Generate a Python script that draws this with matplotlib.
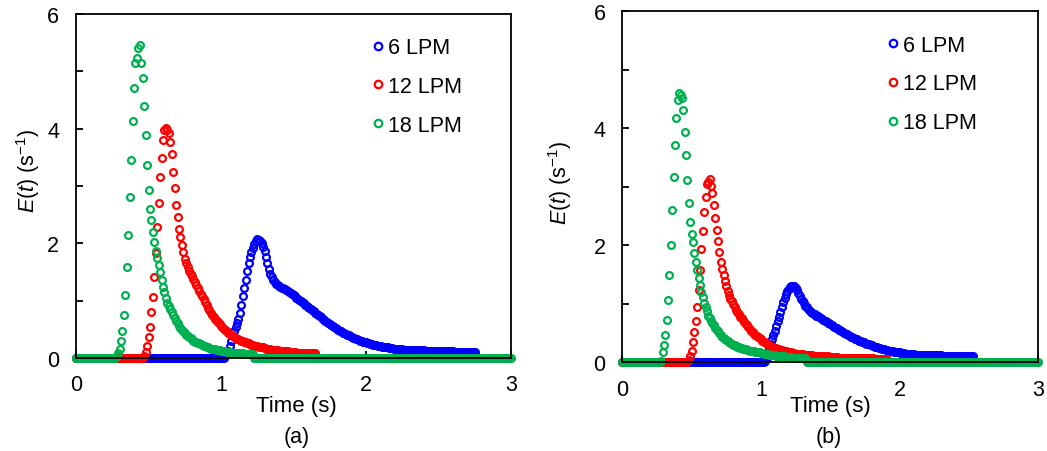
import numpy as np
import matplotlib.pyplot as plt

plt.rcParams['font.family'] = 'Liberation Sans'
plt.rcParams['mathtext.fontset'] = 'custom'
plt.rcParams['mathtext.rm'] = 'Liberation Sans'
plt.rcParams['mathtext.it'] = 'Liberation Sans:italic'

DT = 0.01      # sampling step of the RTD curves (s)
T_END = 3.0

labels = ['6 LPM', '12 LPM', '18 LPM']
colors = ['#0000ff', '#ff0000', '#00b050']

# ---- (a) ----  each list starts at its start time, zero before it
start_6_a = 1.03
e_6_a = [0.03, 0.07, 0.12, 0.20, 0.29, 0.38, 0.47, 0.54, 0.60, 0.68,
         0.78, 0.93, 1.07, 1.21, 1.36, 1.52, 1.65, 1.76, 1.84, 1.92,
         1.99, 2.04, 2.07, 2.06, 2.03, 2.00, 1.93, 1.86, 1.76, 1.66,
         1.55, 1.47, 1.41, 1.36, 1.32, 1.29, 1.27, 1.25, 1.24, 1.22,
         1.21, 1.20, 1.18, 1.16, 1.14, 1.13, 1.11, 1.09, 1.07, 1.05,
         1.03, 1.01, 0.99, 0.97, 0.95, 0.93, 0.91, 0.89, 0.87, 0.85,
         0.83, 0.81, 0.79, 0.77, 0.75, 0.73, 0.71, 0.68, 0.66, 0.64,
         0.63, 0.61, 0.59, 0.57, 0.55, 0.54, 0.52, 0.50, 0.49, 0.47,
         0.46, 0.44, 0.43, 0.42, 0.40, 0.39, 0.38, 0.37, 0.35, 0.34,
         0.33, 0.32, 0.31, 0.30, 0.29, 0.28, 0.28, 0.27, 0.26, 0.25,
         0.24, 0.24, 0.23, 0.22, 0.22, 0.21, 0.21, 0.20, 0.19, 0.19,
         0.18, 0.18, 0.18, 0.17, 0.17, 0.17, 0.16, 0.16, 0.16, 0.15,
         0.15, 0.15, 0.15, 0.14, 0.14, 0.14, 0.14, 0.14, 0.13, 0.13,
         0.13, 0.13, 0.13, 0.13, 0.13, 0.13, 0.13, 0.13, 0.12, 0.12,
         0.12, 0.12, 0.12, 0.12, 0.12, 0.12, 0.12, 0.12, 0.11, 0.11,
         0.11, 0.11, 0.11, 0.11, 0.11, 0.11, 0.11, 0.11, 0.10, 0.10,
         0.10, 0.10, 0.10, 0.10, 0.10, 0.10, 0.10, 0.10, 0.10, 0.10,
         0.10, 0.10, 0.10]

start_12_a = 0.47
e_12_a = [0.04, 0.10, 0.20, 0.36, 0.53, 0.80, 1.06, 1.41, 1.83, 2.28,
          2.70, 3.16, 3.49, 3.80, 3.97, 4.01, 3.97, 3.93, 3.77, 3.55,
          3.24, 2.97, 2.66, 2.46, 2.24, 2.11, 1.96, 1.84, 1.73, 1.65,
          1.58, 1.52, 1.47, 1.42, 1.37, 1.32, 1.27, 1.22, 1.17, 1.12,
          1.07, 1.02, 0.97, 0.92, 0.87, 0.83, 0.79, 0.75, 0.72, 0.68,
          0.65, 0.62, 0.59, 0.56, 0.53, 0.50, 0.48, 0.46, 0.44, 0.42,
          0.40, 0.38, 0.36, 0.35, 0.33, 0.32, 0.31, 0.30, 0.29, 0.28,
          0.27, 0.26, 0.25, 0.24, 0.23, 0.22, 0.21, 0.21, 0.20, 0.19,
          0.19, 0.18, 0.18, 0.17, 0.16, 0.16, 0.15, 0.15, 0.14, 0.14,
          0.13, 0.13, 0.13, 0.12, 0.12, 0.12, 0.11, 0.11, 0.11, 0.11,
          0.10, 0.10, 0.10, 0.10, 0.10, 0.09, 0.09, 0.09, 0.09, 0.09,
          0.09, 0.08, 0.08, 0.08, 0.08, 0.08, 0.08, 0.08, 0.08]

start_18_a = 0.28
e_18_a = [0.03, 0.08, 0.15, 0.30, 0.47, 0.75, 1.10, 1.58, 2.14, 2.80,
          3.45, 4.14, 4.70, 5.14, 5.23, 5.41, 5.46, 5.15, 4.88, 4.39,
          3.88, 3.36, 2.92, 2.60, 2.40, 2.20, 2.02, 1.87, 1.74, 1.62,
          1.50, 1.36, 1.24, 1.14, 1.04, 0.96, 0.90, 0.85, 0.80, 0.75,
          0.70, 0.65, 0.60, 0.56, 0.52, 0.49, 0.46, 0.43, 0.40, 0.38,
          0.36, 0.34, 0.32, 0.30, 0.28, 0.27, 0.26, 0.25, 0.24, 0.22,
          0.21, 0.20, 0.19, 0.18, 0.17, 0.16, 0.16, 0.15, 0.15, 0.14,
          0.14, 0.13, 0.12, 0.12, 0.11, 0.11, 0.10, 0.10, 0.10, 0.09,
          0.09, 0.09, 0.09, 0.08, 0.08, 0.08, 0.08, 0.08, 0.07, 0.07,
          0.07, 0.07, 0.07, 0.07, 0.06]

# ---- (b) ----
start_6_b = 1.03
e_6_b = [0.03, 0.08, 0.15, 0.24, 0.32, 0.40, 0.47, 0.54, 0.62, 0.70,
         0.78, 0.86, 0.95, 1.03, 1.10, 1.17, 1.22, 1.26, 1.29, 1.31,
         1.31, 1.30, 1.27, 1.23, 1.19, 1.14, 1.09, 1.05, 1.01, 0.97,
         0.94, 0.91, 0.88, 0.86, 0.85, 0.83, 0.82, 0.80, 0.79, 0.77,
         0.76, 0.74, 0.73, 0.71, 0.70, 0.68, 0.67, 0.65, 0.64, 0.62,
         0.61, 0.59, 0.58, 0.56, 0.55, 0.53, 0.52, 0.50, 0.49, 0.48,
         0.46, 0.45, 0.44, 0.43, 0.42, 0.40, 0.39, 0.38, 0.37, 0.36,
         0.35, 0.34, 0.33, 0.32, 0.31, 0.31, 0.30, 0.29, 0.28, 0.27,
         0.26, 0.26, 0.25, 0.24, 0.23, 0.23, 0.22, 0.21, 0.21, 0.20,
         0.20, 0.19, 0.19, 0.18, 0.18, 0.17, 0.17, 0.17, 0.16, 0.16,
         0.16, 0.15, 0.15, 0.15, 0.14, 0.14, 0.14, 0.14, 0.13, 0.13,
         0.13, 0.13, 0.13, 0.13, 0.13, 0.13, 0.13, 0.13, 0.12, 0.12,
         0.12, 0.12, 0.12, 0.12, 0.12, 0.12, 0.12, 0.12, 0.11, 0.11,
         0.11, 0.11, 0.11, 0.11, 0.11, 0.11, 0.11, 0.11, 0.10, 0.10,
         0.10, 0.10, 0.10, 0.10, 0.10, 0.10, 0.10, 0.10, 0.10, 0.10,
         0.10]

start_12_b = 0.48
e_12_b = [0.04, 0.10, 0.20, 0.35, 0.51, 0.70, 0.94, 1.23, 1.58, 1.93,
          2.24, 2.57, 2.83, 3.05, 3.09, 3.13, 3.02, 2.90, 2.69, 2.47,
          2.27, 2.07, 1.88, 1.72, 1.60, 1.49, 1.39, 1.30, 1.22, 1.15,
          1.09, 1.04, 0.99, 0.94, 0.90, 0.86, 0.82, 0.78, 0.75, 0.72,
          0.69, 0.66, 0.63, 0.60, 0.57, 0.54, 0.52, 0.49, 0.47, 0.45,
          0.43, 0.41, 0.39, 0.37, 0.35, 0.34, 0.32, 0.31, 0.30, 0.28,
          0.27, 0.26, 0.25, 0.24, 0.23, 0.22, 0.21, 0.21, 0.20, 0.19,
          0.19, 0.18, 0.18, 0.17, 0.17, 0.16, 0.16, 0.15, 0.15, 0.15,
          0.14, 0.14, 0.14, 0.13, 0.13, 0.13, 0.12, 0.12, 0.12, 0.12,
          0.11, 0.11, 0.11, 0.11, 0.11, 0.10, 0.10, 0.10, 0.10, 0.10,
          0.10, 0.09, 0.09, 0.09, 0.09, 0.09, 0.09, 0.09, 0.08, 0.08,
          0.08, 0.08, 0.08, 0.08, 0.08, 0.08, 0.08, 0.08, 0.08, 0.08,
          0.07, 0.07, 0.07, 0.07, 0.07, 0.07, 0.07, 0.07, 0.07, 0.07,
          0.07, 0.07, 0.07, 0.07, 0.06, 0.06, 0.06, 0.06, 0.06, 0.06,
          0.06, 0.06, 0.06, 0.06]

start_18_b = 0.28
e_18_b = [0.03, 0.17, 0.30, 0.47, 0.73, 1.07, 1.49, 2.01, 2.61, 3.16,
          3.72, 4.18, 4.48, 4.61, 4.57, 4.52, 4.31, 3.93, 3.54, 3.12,
          2.73, 2.39, 2.20, 2.05, 1.86, 1.71, 1.57, 1.44, 1.32, 1.21,
          1.11, 1.02, 0.94, 0.87, 0.80, 0.75, 0.71, 0.67, 0.63, 0.59,
          0.56, 0.53, 0.50, 0.47, 0.44, 0.42, 0.40, 0.38, 0.36, 0.34,
          0.33, 0.31, 0.30, 0.29, 0.28, 0.27, 0.26, 0.25, 0.24, 0.23,
          0.23, 0.22, 0.21, 0.21, 0.20, 0.20, 0.19, 0.19, 0.18, 0.18,
          0.17, 0.17, 0.16, 0.16, 0.15, 0.15, 0.14, 0.14, 0.13, 0.13,
          0.12, 0.12, 0.12, 0.11, 0.11, 0.11, 0.10, 0.10, 0.10, 0.10,
          0.09, 0.09, 0.09, 0.09, 0.09, 0.08, 0.08, 0.08, 0.08, 0.08,
          0.07, 0.07, 0.07, 0.07, 0.07]


def build(start, vals, end=None):
    # zero baseline before the tracer arrives (and after, for the green trace)
    v = [0.0] * int(round(start / DT)) + list(vals)
    if end is not None:
        v += [0.0] * (int(round(end / DT)) + 1 - len(v))
    t = np.arange(len(v)) * DT
    return t, np.array(v)


def draw(ax, series, leg_anchor, ylab_xy, xlab_xy, tag, tag_xy):
    for (t, v), lab, col in zip(series, labels, colors):
        ax.plot(t, v, 'o', ls='none', mfc='none', mec=col, ms=4.9, mew=1.6,
                clip_on=False, label=lab)
    ax.set_xlim(0, T_END)
    ax.set_ylim(0, 6)
    ax.set_xticks([0, 1, 2, 3])
    ax.set_yticks(range(7))
    ax.set_yticklabels(['0', '', '2', '', '4', '', '6'])
    ax.tick_params(direction='in', length=5, width=1.3, labelsize=15.5, pad=12)
    for s in ax.spines.values():
        s.set_linewidth(1.3)
    ax.set_ylabel(r'$E$($t$) (s$^{\mathregular{-1}}$)', fontsize=15.5)
    ax.yaxis.set_label_coords(*ylab_xy)
    ax.yaxis.label.set_va('center')
    ax.set_xlabel('Time (s)', fontsize=16)
    ax.xaxis.set_label_coords(*xlab_xy)
    ax.xaxis.label.set_va('center')
    ax.text(tag_xy[0], tag_xy[1], tag, transform=ax.transAxes,
            ha='center', va='center', fontsize=15.5)
    ax.legend(loc='upper left', bbox_to_anchor=leg_anchor, frameon=False,
              fontsize=15.5, handlelength=0.5, handletextpad=0.2,
              labelspacing=0.82, borderpad=0, borderaxespad=0,
              markerscale=1.1, numpoints=1)


fig = plt.figure(figsize=(10.47, 4.52), dpi=100)
ax_a = fig.add_axes([76 / 1047, 1 - 358.8 / 452, 435 / 1047, 343.8 / 452])
ax_b = fig.add_axes([622.3 / 1047, 1 - 363.3 / 452, 416 / 1047, 351 / 452])

series_a = [build(start_6_a, e_6_a), build(start_12_a, e_12_a),
            build(start_18_a, e_18_a, T_END)]
series_b = [build(start_6_b, e_6_b), build(start_12_b, e_12_b),
            build(start_18_b, e_18_b, T_END)]

draw(ax_a, series_a, (0.6816, 0.932), (-0.110, 0.546), (0.507, -0.140),
     '(a)', (0.508, -0.2275))
draw(ax_b, series_b, (0.6375, 0.933), (-0.150, 0.514), (0.499, -0.1245),
     '(b)', (0.497, -0.21))

fig.savefig('out.png', dpi=100)
